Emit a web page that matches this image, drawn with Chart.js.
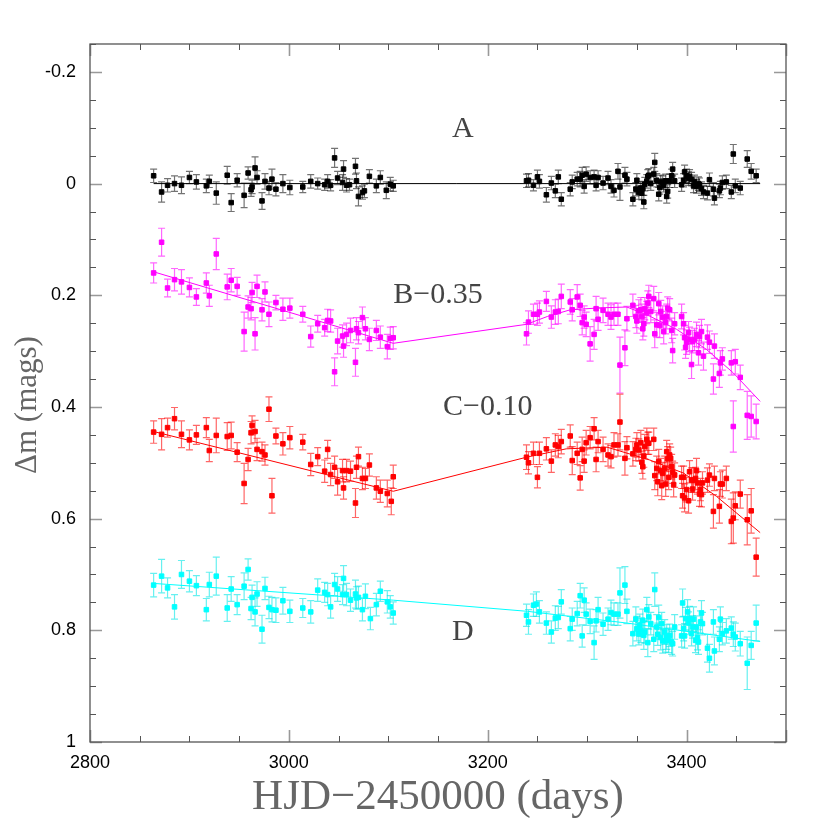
<!DOCTYPE html>
<html>
<head>
<meta charset="utf-8">
<script src="https://cdn.jsdelivr.net/npm/chart.js@4/dist/chart.umd.min.js"></script>
<style>
  html, body { margin: 0; padding: 0; background: #fff; }
</style>
</head>
<body>
<canvas id="grafica" width="830" height="830"></canvas>
<script>
// Curvas de luz A, B, C, D (Delta m en magnitudes, HJD-2450000)

// --- A ---
const aHjd = [2864,2872,2878,2885,2892,2900,2907,2917,2920,2927, 2938,2942,2948,2955,2959,2962,2963,2966,2968,2973,
  2976,2980,2983,2987,2994,3001,3014,3022,3029,3036, 3039,3042,3046,3049,3054,3055,3058,3061,3067,3068,
  3070,3074,3076,3081,3088,3092,3098,3102,3105,
  3239,3241,3246,3250,3252,3259,3264,3268,3271,3274, 3283,3285,3290,3293,3295,3297,3299,3303,3307,3309,
  3311,3316,3321,3324,3327,3331,3333,3338,3340,3346, 3349,3350,3352,3354,3355,3356,3357,3358,3360,3361,
  3362,3364,3367,3368,3370,3372,3373,3374,3376,3377, 3379,3380,3381,3383,3385,3386,3388,3395,3397,3398,
  3400,3402,3403,3405,3407,3408,3410,3412,3413,3415, 3417,3421,3423,3427,3428,3433,3434,3436,3440,3445,
  3447,3449,3454,3461,3465,3470];
const aMag = [-0.014,0.015,0.003,0.0,0.003,-0.011,-0.003,0.004,-0.004,0.017, -0.015,0.034,-0.006,0.021,-0.019,0.011,0.006,-0.028,-0.011,0.031,
  -0.004,0.008,-0.008,0.010,0.0,0.007,0.006,-0.004,0.0,0.002, -0.004,0.003,-0.046,-0.010,-0.002,-0.026,0.003,0.002,-0.031,-0.005,
  0.023,0.016,0.013,-0.013,0.004,-0.011,0.012,0.001,0.004,
  -0.005,-0.006,0.003,-0.012,-0.004,0.020,-0.001,0.013,-0.012,0.028, 0.010,-0.003,-0.008,-0.008,-0.015,0.005,-0.017,-0.011,-0.012,0.003,
  -0.011,-0.001,-0.010,0.005,0.012,-0.022,0.006,-0.015,-0.008,0.028, 0.010,-0.006,0.016,0.008,0.017,0.009,0.033,0.001,-0.004,-0.013,
  -0.015,0.0,-0.017,-0.038,-0.006,0.019,0.007,-0.003,-0.002,0.003, -0.005,0.023,0.014,-0.005,-0.014,-0.026,-0.005,0.002,-0.006,-0.021,
  -0.014,-0.009,-0.013,-0.008,0.004,-0.003,0.005,0.0,0.002,0.009, 0.015,0.017,-0.007,0.010,0.026,0.013,0.008,-0.002,-0.003,0.015,
  -0.053,0.004,0.008,-0.044,-0.022,-0.014];
const aErr = [0.012,0.018,0.012,0.014,0.015,0.011,0.013,0.012,0.011,0.020, 0.016,0.016,0.012,0.022,0.011,0.012,0.012,0.020,0.012,0.015,
  0.014,0.012,0.018,0.012,0.016,0.013,0.010,0.012,0.010,0.010, 0.012,0.010,0.017,0.012,0.014,0.015,0.012,0.010,0.014,0.014,
  0.017,0.012,0.012,0.012,0.012,0.012,0.015,0.012,0.010,
  0.012,0.012,0.010,0.012,0.012,0.013,0.012,0.012,0.012,0.012, 0.012,0.012,0.012,0.014,0.014,0.012,0.013,0.012,0.012,0.010,
  0.012,0.012,0.012,0.012,0.012,0.014,0.024,0.014,0.012,0.012, 0.012,0.012,0.012,0.012,0.012,0.012,0.012,0.012,0.012,0.012,
  0.012,0.012,0.012,0.016,0.012,0.012,0.012,0.012,0.012,0.012, 0.012,0.012,0.012,0.012,0.012,0.012,0.012,0.012,0.012,0.012,
  0.012,0.012,0.012,0.012,0.012,0.012,0.012,0.012,0.012,0.012, 0.012,0.012,0.012,0.012,0.012,0.012,0.012,0.012,0.012,0.012,
  0.017,0.012,0.012,0.015,0.014,0.012];

// --- B (-0.35) ---
const bHjd = [2864,2872,2878,2885,2892,2900,2907,2917,2920,2927, 2938,2942,2948,2955,2959,2962,2963,2966,2968,2973,
  2976,2980,2987,2994,3001,3014,3022,3029,3036,3039, 3042,3046,3049,3054,3055,3058,3062,3067,3068,3070,
  3074,3077,3081,3088,3092,3099,3102,3105,
  3239,3241,3246,3250,3252,3259,3264,3268,3271,3274, 3283,3285,3290,3293,3295,3297,3299,3303,3307,3309,
  3311,3316,3321,3324,3327,3331,3333,3338,3340,3346, 3349,3350,3352,3354,3355,3356,3357,3358,3360,3361,
  3362,3364,3367,3368,3370,3372,3373,3374,3376,3377, 3379,3380,3381,3383,3385,3386,3388,3395,3397,3398,
  3399,3400,3402,3403,3405,3406,3408,3410,3412,3413, 3415,3417,3421,3423,3427,3428,3433,3434,3436,3445,
  3447,3449,3454,3461,3465,3470];
const bMag = [0.160,0.105,0.187,0.172,0.176,0.186,0.203,0.178,0.201,0.126, 0.185,0.173,0.184,0.265,0.221,0.224,0.195,0.269,0.184,0.226,
  0.194,0.234,0.213,0.225,0.223,0.234,0.274,0.251,0.258,0.245, 0.246,0.337,0.282,0.273,0.291,0.270,0.263,0.320,0.260,0.267,
  0.240,0.260,0.279,0.263,0.275,0.292,0.277,0.276,
  0.269,0.248,0.234,0.234,0.230,0.211,0.239,0.230,0.229,0.202, 0.212,0.226,0.203,0.218,0.249,0.239,0.252,0.287,0.270,0.224,
  0.243,0.227,0.234,0.239,0.234,0.234,0.325,0.294,0.242,0.218, 0.238,0.246,0.228,0.226,0.238,0.260,0.251,0.224,0.231,0.214,
  0.202,0.229,0.206,0.269,0.253,0.215,0.254,0.229,0.239,0.265, 0.249,0.238,0.223,0.226,0.263,0.299,0.251,0.238,0.251,0.276,
  0.293,0.284,0.267,0.279,0.324,0.283,0.279,0.270,0.303,0.274, 0.265,0.309,0.275,0.284,0.350,0.291,0.340,0.321,0.314,0.321,
  0.435,0.319,0.347,0.415,0.417,0.426];
const bErr = [0.018,0.025,0.016,0.020,0.022,0.017,0.015,0.018,0.019,0.028, 0.023,0.021,0.016,0.035,0.020,0.020,0.018,0.029,0.020,0.020,
  0.018,0.022,0.013,0.020,0.018,0.014,0.019,0.015,0.015,0.020, 0.020,0.025,0.023,0.020,0.020,0.020,0.022,0.025,0.020,0.020,
  0.019,0.020,0.020,0.018,0.020,0.022,0.020,0.020,
  0.020,0.020,0.018,0.020,0.020,0.018,0.020,0.022,0.022,0.022, 0.022,0.020,0.022,0.020,0.022,0.020,0.022,0.031,0.027,0.022,
  0.020,0.022,0.020,0.022,0.020,0.020,0.050,0.032,0.022,0.020, 0.020,0.022,0.020,0.022,0.022,0.020,0.022,0.020,0.020,0.022,
  0.020,0.020,0.022,0.025,0.022,0.020,0.022,0.020,0.020,0.022, 0.020,0.022,0.020,0.020,0.022,0.022,0.020,0.022,0.020,0.022,
  0.020,0.022,0.020,0.022,0.025,0.020,0.020,0.022,0.022,0.020, 0.022,0.025,0.022,0.020,0.027,0.022,0.025,0.022,0.020,0.022,
  0.046,0.022,0.022,0.043,0.037,0.031];

// --- C (-0.10) ---
const cHjd = [2864,2872,2878,2885,2892,2900,2907,2917,2920,2927, 2938,2942,2948,2955,2959,2962,2963,2966,2968,2973,
  2976,2980,2983,2987,2994,3001,3014,3022,3029,3036, 3039,3042,3046,3049,3054,3055,3058,3062,3067,3068,
  3070,3074,3077,3081,3088,3092,3099,3103,3105,
  3239,3241,3246,3250,3252,3259,3264,3268,3271,3274, 3283,3285,3290,3293,3295,3297,3299,3303,3307,3309,
  3311,3316,3321,3324,3327,3331,3333,3338,3340,3346, 3349,3350,3352,3354,3355,3356,3357,3358,3360,3361,
  3362,3367,3368,3370,3371,3372,3374,3375,3376,3378, 3379,3380,3381,3382,3383,3384,3385,3386,3387,3388,
  3395,3396,3397,3398,3400,3402,3403,3405,3406,3407, 3409,3410,3411,3413,3414,3415,3416,3421,3423,3427,
  3428,3433,3434,3436,3440,3445,3447,3449,3454,3461, 3465,3470];
const cMag = [0.445,0.449,0.437,0.421,0.449,0.459,0.450,0.437,0.478,0.451, 0.453,0.451,0.481,0.537,0.494,0.446,0.433,0.444,0.476,0.480,
  0.486,0.404,0.559,0.452,0.466,0.455,0.463,0.503,0.489,0.515, 0.476,0.521,0.508,0.534,0.514,0.545,0.514,0.515,0.572,0.508,
  0.489,0.528,0.528,0.504,0.545,0.551,0.555,0.569,0.525,
  0.490,0.500,0.483,0.526,0.483,0.475,0.497,0.468,0.471,0.462, 0.452,0.496,0.483,0.527,0.476,0.497,0.464,0.455,0.439,0.494,
  0.462,0.476,0.486,0.489,0.468,0.468,0.427,0.492,0.473,0.484, 0.476,0.468,0.477,0.464,0.499,0.507,0.488,0.471,0.458,0.465,
  0.465,0.458,0.523,0.510,0.534,0.498,0.514,0.541,0.519,0.510, 0.538,0.480,0.493,0.526,0.486,0.492,0.507,0.517,0.539,0.522,
  0.526,0.559,0.526,0.563,0.548,0.568,0.516,0.531,0.547,0.531, 0.528,0.514,0.536,0.556,0.548,0.557,0.536,0.531,0.522,0.587,
  0.528,0.578,0.538,0.538,0.528,0.605,0.599,0.577,0.556,0.602, 0.586,0.669];
const cErr = [0.020,0.028,0.017,0.020,0.024,0.018,0.017,0.018,0.020,0.031, 0.025,0.024,0.017,0.036,0.020,0.020,0.017,0.020,0.020,0.017,
  0.018,0.022,0.031,0.014,0.020,0.020,0.014,0.020,0.016,0.020, 0.016,0.020,0.020,0.024,0.020,0.020,0.020,0.018,0.026,0.020,
  0.017,0.020,0.018,0.020,0.020,0.020,0.024,0.024,0.021,
  0.022,0.020,0.020,0.019,0.020,0.020,0.020,0.020,0.020,0.022, 0.020,0.025,0.020,0.022,0.022,0.020,0.022,0.020,0.020,0.022,
  0.020,0.022,0.020,0.020,0.022,0.020,0.050,0.030,0.020,0.022, 0.020,0.022,0.020,0.022,0.020,0.022,0.020,0.022,0.020,0.020,
  0.020,0.020,0.025,0.022,0.025,0.022,0.022,0.025,0.020,0.022, 0.022,0.020,0.022,0.022,0.020,0.020,0.022,0.020,0.022,0.022,
  0.020,0.022,0.020,0.025,0.022,0.022,0.020,0.022,0.020,0.022, 0.020,0.022,0.020,0.022,0.020,0.022,0.020,0.022,0.020,0.030,
  0.022,0.030,0.022,0.025,0.022,0.040,0.045,0.025,0.025,0.045, 0.040,0.034];

// --- D ---
const dHjd = [2864,2872,2878,2885,2892,2900,2907,2917,2920,2927, 2938,2942,2948,2955,2959,2962,2963,2966,2968,2973,
  2976,2980,2983,2987,2994,3001,3014,3022,3029,3036, 3039,3042,3046,3049,3054,3055,3058,3062,3067,3068,
  3070,3074,3077,3082,3088,3092,3099,3102,3105,
  3239,3241,3246,3249,3252,3259,3264,3268,3271,3274, 3283,3285,3290,3293,3295,3297,3299,3303,3307,3309,
  3311,3316,3321,3324,3327,3331,3333,3338,3340,3346, 3349,3350,3352,3353,3354,3356,3357,3358,3360,3361,
  3362,3364,3367,3368,3370,3371,3372,3374,3375,3376, 3378,3379,3380,3382,3383,3385,3386,3388,3395,3396,
  3397,3398,3399,3401,3402,3403,3405,3406,3407,3409, 3410,3411,3412,3414,3415,3416,3421,3423,3427,3428,
  3433,3434,3436,3440,3445,3447,3449,3454,3461,3465, 3470];
const dMag = [0.719,0.703,0.724,0.758,0.700,0.712,0.720,0.763,0.718,0.703, 0.760,0.726,0.754,0.721,0.691,0.761,0.741,0.767,0.735,0.798,
  0.725,0.759,0.763,0.764,0.747,0.766,0.760,0.767,0.728,0.732, 0.736,0.758,0.718,0.726,0.736,0.707,0.736,0.746,0.735,0.742,
  0.741,0.763,0.739,0.779,0.754,0.730,0.749,0.758,0.769,
  0.773,0.785,0.755,0.753,0.767,0.787,0.803,0.778,0.777,0.749, 0.797,0.780,0.770,0.738,0.810,0.746,0.771,0.784,0.822,0.783,
  0.763,0.789,0.780,0.768,0.771,0.771,0.733,0.719,0.766,0.806, 0.780,0.797,0.806,0.791,0.800,0.782,0.809,0.803,0.763,0.822,
  0.776,0.788,0.816,0.727,0.794,0.807,0.777,0.813,0.788,0.819, 0.803,0.819,0.812,0.818,0.809,0.821,0.824,0.794,0.810,0.751,
  0.797,0.810,0.779,0.767,0.787,0.779,0.806,0.794,0.780,0.818, 0.794,0.813,0.821,0.785,0.769,0.788,0.832,0.850,0.785,0.837,
  0.816,0.780,0.806,0.801,0.796,0.807,0.812,0.824,0.859,0.827, 0.787];
const dErr = [0.021,0.030,0.018,0.022,0.025,0.019,0.018,0.020,0.022,0.034, 0.024,0.022,0.018,0.024,0.019,0.020,0.022,0.025,0.022,0.025,
  0.020,0.020,0.022,0.022,0.024,0.020,0.017,0.020,0.020,0.018, 0.020,0.020,0.020,0.022,0.018,0.023,0.020,0.020,0.025,0.020,
  0.020,0.020,0.022,0.020,0.020,0.018,0.020,0.020,0.020,
  0.020,0.022,0.020,0.022,0.020,0.020,0.020,0.022,0.020,0.022, 0.022,0.020,0.022,0.022,0.020,0.022,0.020,0.022,0.030,0.020,
  0.022,0.020,0.020,0.022,0.020,0.020,0.045,0.033,0.022,0.022, 0.022,0.022,0.020,0.020,0.022,0.020,0.025,0.020,0.022,0.025,
  0.022,0.020,0.022,0.030,0.022,0.020,0.022,0.022,0.020,0.022, 0.022,0.020,0.022,0.022,0.020,0.022,0.022,0.022,0.020,0.025,
  0.022,0.022,0.020,0.022,0.020,0.022,0.022,0.020,0.022,0.022, 0.020,0.022,0.022,0.020,0.022,0.020,0.025,0.025,0.022,0.025,
  0.022,0.022,0.020,0.022,0.020,0.022,0.025,0.022,0.047,0.025, 0.032];

// Ajustes (curvas continuas)
const fitAHjd = [2864, 3474];
const fitAMag = [0.0, 0.0];
const fitBHjd = [2864, 3105, 3239, 3260, 3283, 3313, 3340, 3363, 3390, 3420, 3447, 3474];
const fitBMag = [0.158, 0.286, 0.252, 0.238, 0.226, 0.2225, 0.221, 0.2375, 0.261, 0.297, 0.339, 0.390];
const fitCHjd = [2864, 3105, 3239, 3279, 3320, 3363, 3397, 3430, 3474];
const fitCMag = [0.444, 0.551, 0.490, 0.475, 0.472, 0.495, 0.5185, 0.560, 0.625];
const fitDHjd = [2864, 3105, 3240, 3340, 3413, 3474];
const fitDMag = [0.716, 0.746, 0.766, 0.787, 0.805, 0.820];

// Etiquetas de cada curva
const etiquetas = ['A', 'B\u22120.35', 'C\u22120.10', 'D'];
const etiquetasHjd = [3175, 3150, 3200, 3175];
const etiquetasMag = [-0.097, 0.200, 0.401, 0.803];

const COLORES = {
    a: '#000000',
    b: '#ff00ff',
    c: '#ff0000',
    d: '#00ffff',
    ejes: '#555555',
    texto: '#666666'
};

function puntos(xs, ys) {
    return xs.map((x, i) => ({ x: x, y: ys[i] }));
}

function serie(xs, ys, errs, color, barra) {
    return {
        data: puntos(xs, ys),
        errs: errs,
        errColor: barra,
        backgroundColor: color,
        borderColor: color,
        pointStyle: 'rect',
        pointRadius: 3.2,
        pointBorderWidth: 1,
        showLine: false
    };
}

function ajuste(xs, ys, color) {
    return {
        data: puntos(xs, ys),
        borderColor: color,
        borderWidth: 1,
        pointRadius: 0,
        showLine: true,
        tension: 0,
        fill: false
    };
}

// Barras de error (dibujadas debajo de los puntos)
const barrasError = {
    id: 'barrasError',
    beforeDatasetsDraw(chart) {
        const { ctx, scales: { x, y } } = chart;
        ctx.save();
        ctx.lineWidth = 1.2;
        chart.data.datasets.forEach(ds => {
            if (!ds.errs) return;
            ctx.strokeStyle = ds.errColor;
            ds.data.forEach((p, j) => {
                const e = ds.errs[j];
                const px = x.getPixelForValue(p.x);
                const y1 = y.getPixelForValue(p.y - e);
                const y2 = y.getPixelForValue(p.y + e);
                ctx.beginPath();
                ctx.moveTo(px, y1); ctx.lineTo(px, y2);
                ctx.moveTo(px - 3.5, y1); ctx.lineTo(px + 3.5, y1);
                ctx.moveTo(px - 3.5, y2); ctx.lineTo(px + 3.5, y2);
                ctx.stroke();
            });
        });
        ctx.restore();
    }
};

// Marco con marcas hacia dentro en los cuatro lados y titulo del eje Y
const marcoTicks = {
    id: 'marcoTicks',
    afterDraw(chart) {
        const { ctx, chartArea: a, scales: { x, y } } = chart;
        ctx.save();
        x.ticks.forEach(t => {
            const px = Math.round(x.getPixelForValue(t.value)) + 0.5;
            const mayor = t.label !== '' || t.value === 3500;
            const len = mayor ? 12 : 6;
            ctx.strokeStyle = mayor ? '#999' : '#555';
            ctx.lineWidth = mayor ? 1.6 : 1;
            ctx.beginPath();
            ctx.moveTo(px, a.bottom); ctx.lineTo(px, a.bottom - len);
            ctx.moveTo(px, a.top); ctx.lineTo(px, a.top + len);
            ctx.stroke();
        });
        y.ticks.forEach(t => {
            const py = Math.round(y.getPixelForValue(t.value)) + 0.5;
            const mayor = t.label !== '';
            const len = mayor ? 12 : 6;
            ctx.strokeStyle = mayor ? '#999' : '#555';
            ctx.lineWidth = mayor ? 1.6 : 1;
            ctx.beginPath();
            ctx.moveTo(a.left, py); ctx.lineTo(a.left + len, py);
            ctx.moveTo(a.right, py); ctx.lineTo(a.right - len, py);
            ctx.stroke();
        });
        ctx.strokeStyle = COLORES.ejes;
        ctx.lineWidth = 1.3;
        ctx.strokeRect(a.left, a.top, a.right - a.left, a.bottom - a.top);

        // titulo vertical
        ctx.translate(28, 405);
        ctx.rotate(-Math.PI / 2);
        ctx.font = '31px "Liberation Serif"';
        ctx.fillStyle = COLORES.texto;
        ctx.textAlign = 'center';
        ctx.textBaseline = 'middle';
        ctx.fillText('\u0394m (mags)', 0, 0);
        ctx.restore();
    }
};

// Textos A, B-0.35, C-0.10, D dentro del area
const textos = {
    id: 'textos',
    afterDatasetsDraw(chart) {
        const { ctx, scales: { x, y } } = chart;
        ctx.save();
        ctx.font = '30px "Liberation Serif"';
        ctx.fillStyle = '#444';
        ctx.textAlign = 'center';
        ctx.textBaseline = 'middle';
        etiquetas.forEach((t, i) => {
            ctx.fillText(t, x.getPixelForValue(etiquetasHjd[i]), y.getPixelForValue(etiquetasMag[i]));
        });
        ctx.restore();
    }
};

const ctx = document.getElementById('grafica').getContext('2d');
new Chart(ctx, {
    type: 'scatter',
    data: {
        datasets: [
            ajuste(fitAHjd, fitAMag, COLORES.a),
            ajuste(fitBHjd, fitBMag, COLORES.b),
            ajuste(fitCHjd, fitCMag, COLORES.c),
            ajuste(fitDHjd, fitDMag, COLORES.d),
            serie(aHjd, aMag, aErr, COLORES.a, 'rgba(0,0,0,0.55)'),
            serie(bHjd, bMag, bErr, COLORES.b, 'rgba(255,0,255,0.6)'),
            serie(cHjd, cMag, cErr, COLORES.c, 'rgba(255,0,0,0.6)'),
            serie(dHjd, dMag, dErr, COLORES.d, 'rgba(0,230,230,0.6)')
        ]
    },
    options: {
        responsive: false,
        animation: false,
        layout: { padding: { left: 0, top: 44, right: 44, bottom: 0 } },
        plugins: {
            legend: { display: false },
            tooltip: { enabled: false }
        },
        scales: {
            x: {
                type: 'linear',
                min: 2800,
                max: 3500,
                grid: { display: false, drawTicks: false },
                border: { display: false },
                afterFit: s => { s.height = 88; },
                ticks: {
                    stepSize: 50,
                    autoSkip: false,
                    maxRotation: 0,
                    padding: 10,
                    color: '#000',
                    font: { family: '"Liberation Sans"', size: 18 },
                    callback: v => (v % 200 === 0 && v < 3500) ? String(v) : ''
                },
                title: {
                    display: true,
                    text: 'HJD\u22122450000 (days)',
                    color: COLORES.texto,
                    font: { family: '"Liberation Serif"', size: 43 },
                    padding: { top: 0, bottom: 6 }
                }
            },
            y: {
                type: 'linear',
                reverse: true,
                min: -0.25,
                max: 1.0,
                grid: { display: false, drawTicks: false },
                border: { display: false },
                afterFit: s => { s.width = 90; },
                ticks: {
                    stepSize: 0.05,
                    autoSkip: false,
                    padding: 14,
                    color: '#000',
                    font: { family: '"Liberation Sans"', size: 18 },
                    callback: v => {
                        const c = Math.round(v * 100);
                        return c % 20 === 0 ? String(c / 100) : '';
                    }
                }
            }
        }
    },
    plugins: [barrasError, marcoTicks, textos]
});
</script>
</body>
</html>
